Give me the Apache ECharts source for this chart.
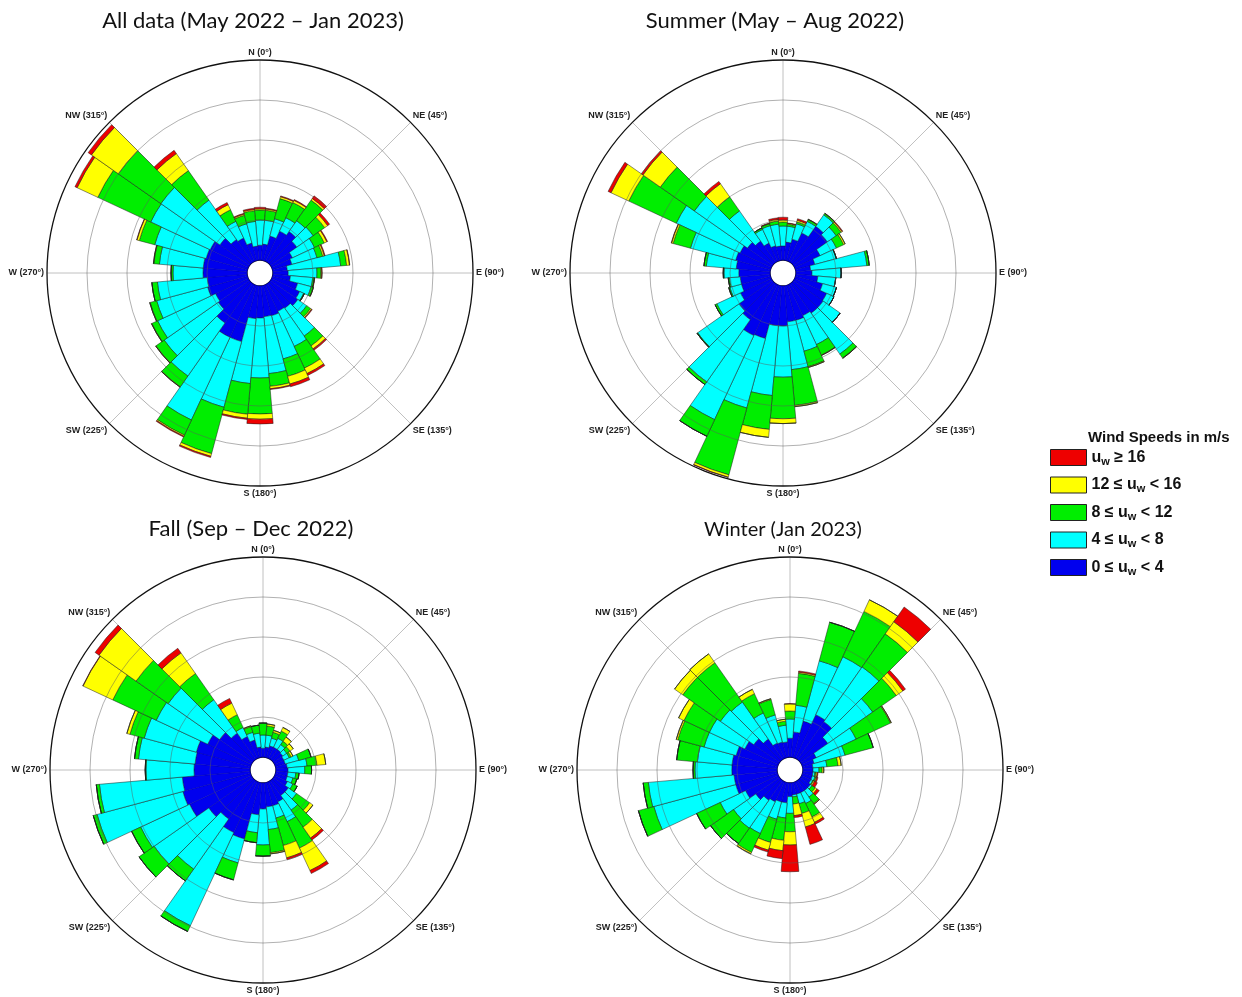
<!DOCTYPE html>
<html>
<head>
<meta charset="utf-8">
<script src="https://cdn.jsdelivr.net/npm/echarts@6/dist/echarts.min.js"></script>
<style>html,body{margin:0;padding:0;background:#fff}#c{width:1242px;height:997px}</style>
</head>
<body>
<div id="c"></div>
<script>
// direction bins (degrees, bin centres)
const directions = ['0','10','20','30','40','50','60','70','80','90','100','110','120','130','140','150','160','170',
  '180','190','200','210','220','230','240','250','260','270','280','290','300','310','320','330','340','350'];
const compassLabels = ['N (0°)','NE (45°)','E (90°)','SE (135°)','S (180°)','SW (225°)','W (270°)','NW (315°)'];
const speedLabels = ['0 ≤ uw < 4','4 ≤ uw < 8','8 ≤ uw < 12','12 ≤ uw < 16','uw ≥ 16'];
const roseTitles = ['All data (May 2022 – Jan 2023)','Summer (May – Aug 2022)','Fall (Sep – Dec 2022)','Winter (Jan 2023)'];
const radialTicks = [0,1,2,3,4,5];

// frequency (%) per direction bin, per speed class
const allSpeed0 = [.37,.40,.63,.83,.94,.80,.57,.50,.36,.38,.44,.65,.77,.83,.75,.73,.78,.77,.80,.82,1.45,1.45,1.20,.95,.90,1.03,1.00,1.10,1.10,1.07,1.05,.90,.70,.64,.45,.35];
const allSpeed4 = [.63,.60,.45,.37,.33,.50,.61,.65,1.34,.72,.56,.35,.11,.27,.85,.97,1.12,1.43,1.50,1.63,1.70,2.28,1.62,1.65,1.60,1.32,1.25,.75,1.10,1.33,1.64,1.80,1.20,.46,.50,.62];
const allSpeed8 = [.25,.25,.52,.42,.63,.35,.27,.15,.15,.10,.04,.05,.02,.12,.30,.60,.45,.32,.90,.77,1.20,.42,.33,.25,.16,.17,.14,.05,.14,.40,1.46,1.30,.90,.32,.22,.27];
const allSpeed12 = [.03,.03,.05,.06,.05,.09,.07,.04,.07,.02,0,.01,0,.03,.09,.15,.20,.06,.13,.10,.07,.03,.01,.01,.01,.01,0,0,.01,.06,.57,.82,.52,.14,.03,.03];
const allSpeed16 = [.04,.02,.02,.02,.08,.06,.02,.02,.01,.01,.01,0,0,.02,.04,.05,.07,.02,.12,.03,.03,.02,0,0,0,0,0,0,0,.01,.06,.10,.10,.06,.02,.03];

const summerSpeed0 = [.35,.45,.55,.78,1.10,1.03,.70,.50,.37,.40,.55,.70,.88,.90,.90,.85,.90,.90,1.00,1.00,1.37,1.40,1.10,1.02,.85,.75,.75,.78,.85,.90,.86,.76,.65,.50,.38,.35];
const summerSpeed4 = [.50,.40,.40,.32,.35,.27,.45,.55,1.41,.73,.45,.36,.20,.52,1.25,.80,.80,1.20,1.28,1.75,1.80,2.32,1.90,1.26,.65,.30,.27,.37,.75,1.17,1.76,1.62,.92,.38,.52,.55];
const summerSpeed8 = [.10,.05,.05,.05,.04,.15,.20,.01,.06,0,0,0,0,0,.12,.29,.40,.90,1.04,.85,1.73,.46,.08,.02,.05,.03,.03,.02,.06,.45,1.31,1.04,.43,.04,.05,.08];
const summerSpeed12 = [.05,.02,.04,.01,.01,.03,.04,0,0,0,0,0,0,0,.01,.01,.02,.03,.12,.20,.06,0,0,0,0,0,0,0,0,.04,.49,.53,.40,0,.01,.04];
const summerSpeed16 = [.07,.01,.04,0,0,.02,0,0,0,0,0,0,0,0,0,0,0,0,0,0,.01,0,0,0,0,0,0,0,0,.01,.08,.05,.07,0,.01,.04];

const fallSpeed0 = [.22,.25,.30,.30,.30,.28,.25,.25,.28,.30,.30,.30,.35,.45,.45,.55,.60,.60,.65,.80,1.46,1.40,1.17,1.33,1.70,1.75,1.70,1.40,1.38,1.40,1.20,1.00,.80,.60,.45,.25];
const fallSpeed4 = [.33,.30,.20,.25,.15,.12,.15,.35,.50,.42,.20,.15,.15,.25,.45,.55,.32,.57,.90,.45,.62,2.57,1.53,1.67,1.35,2.22,2.08,1.20,1.42,1.35,1.42,1.57,1.02,.25,.20,.35];
const fallSpeed8 = [.30,.23,.15,.20,.10,.10,.05,.32,.25,.17,.08,.10,.12,.40,.52,.73,.71,.58,.28,.25,.44,.16,.36,.46,.25,.10,.08,.02,.10,.37,1.20,.98,.80,.35,.15,.20];
const fallSpeed12 = [0,.05,.05,.10,.13,.10,.05,0,.22,0,0,0,0,.10,.33,.62,.32,.03,0,0,0,0,0,0,0,0,0,0,0,.08,.82,1.13,.63,.32,.02,0];
const fallSpeed16 = [0,0,0,0,0,0,0,0,0,0,0,0,0,0,.06,.08,.05,0,0,0,0,0,0,0,0,0,0,0,0,0,.01,.12,.14,.13,0,0];

const winterSpeed0 = [.47,.63,.94,1.20,1.15,.83,.40,.30,.25,.25,.25,.25,.25,.30,.30,.30,.30,.30,.34,.50,.50,.55,.60,.72,.90,1.08,1.08,1.13,1.13,1.07,.92,.78,.62,.42,.40,.38];
const winterSpeed4 = [.48,.67,1.56,1.60,1.67,1.37,1.10,.80,.35,.15,.05,.07,.05,.05,.20,.30,.25,.05,.42,.38,.45,.88,.85,.68,.70,2.12,2.15,.92,.87,.83,.98,1.02,1.13,.83,.70,.42];
const winterSpeed8 = [.20,.80,1.00,1.25,1.01,.72,.95,.73,.28,.08,.03,.03,.02,.10,.20,.37,.25,.18,.46,.56,.60,.52,.47,.70,.65,.40,.13,.05,.52,.68,.70,1.15,1.20,.53,.40,.10];
const winterSpeed12 = [.18,.03,0,.32,.37,.20,.02,0,.08,.04,.03,.02,.03,.05,.02,.15,.35,.29,.33,.26,.20,.04,0,0,0,0,0,0,0,.04,.15,.25,.27,.12,.02,.05];
const winterSpeed16 = [0,.03,0,0,.45,.08,0,0,0,0,.02,.03,.08,.07,0,.05,.45,.05,.67,.20,.05,0,0,0,0,0,0,0,0,0,0,0,0,0,0,0];

const roses = [
  [allSpeed0, allSpeed4, allSpeed8, allSpeed12, allSpeed16],
  [summerSpeed0, summerSpeed4, summerSpeed8, summerSpeed12, summerSpeed16],
  [fallSpeed0, fallSpeed4, fallSpeed8, fallSpeed12, fallSpeed16],
  [winterSpeed0, winterSpeed4, winterSpeed8, winterSpeed12, winterSpeed16]
];

// layout / style
const centers = [[260, 273], [783, 273], [263, 770], [790, 770]];
const titlePos = [[248, 5], [770, 5], [246, 513], [778, 515]];
const titleSizes = [22, 22, 22, 20];
const speedColors = ['#0000ee', '#00ffff', '#00ee00', '#ffff00', '#ee0000'];
const speedBorders = ['#0000a8', '#1a1a1a', '#1a1a1a', '#1a1a1a', '#1a1a1a'];
const innerR = 13, outerR = 213;

const chart = echarts.init(document.getElementById('c'), null, {renderer: 'canvas'});

const polar = [], angleAxis = [], radiusAxis = [], series = [], title = [];
const circleColors = radialTicks.map((t, i) => (i === 0 || i === radialTicks.length - 1) ? 'rgba(0,0,0,0)' : 'rgba(90,90,90,0.6)');

roses.forEach((rose, i) => {
  polar.push({center: centers[i], radius: [innerR, outerR]});
  polar.push({center: centers[i], radius: [innerR, outerR]});
  angleAxis.push({
    polarIndex: 2 * i, type: 'value', min: 0, max: 360, interval: 45, startAngle: 90, clockwise: true, z: 1,
    axisLine: {show: true, lineStyle: {color: '#111', width: 1.3}},
    axisTick: {show: false},
    axisLabel: {show: true, margin: 3, fontSize: 9, fontWeight: 'bold', fontFamily: 'Liberation Sans', color: '#222',
      formatter: v => (v >= 360 ? '' : compassLabels[Math.round(v / 45)])},
    splitLine: {show: true, lineStyle: {color: '#b0b0b0', width: 0.8}}
  });
  angleAxis.push({
    polarIndex: 2 * i + 1, type: 'category', data: directions, startAngle: 95, clockwise: true,
    axisLine: {show: false}, axisTick: {show: false}, axisLabel: {show: false}, splitLine: {show: false}
  });
  radiusAxis.push({
    polarIndex: 2 * i, type: 'value', min: radialTicks[0], max: radialTicks[radialTicks.length - 1], interval: 1, z: 10,
    axisLine: {show: false}, axisTick: {show: false}, axisLabel: {show: false},
    splitLine: {show: true, lineStyle: {color: circleColors, width: 0.8}}
  });
  radiusAxis.push({
    polarIndex: 2 * i + 1, type: 'value', min: radialTicks[0], max: radialTicks[radialTicks.length - 1],
    axisLine: {show: false}, axisTick: {show: false}, axisLabel: {show: false}, splitLine: {show: false}
  });
  rose.forEach((vals, k) => {
    series.push({
      type: 'bar', coordinateSystem: 'polar', polarIndex: 2 * i + 1, stack: 'rose' + i,
      name: speedLabels[k], data: vals, barCategoryGap: '0%', z: 3,
      itemStyle: {color: speedColors[k], borderColor: speedBorders[k], borderWidth: 0.5},
      emphasis: {disabled: true}, silent: true
    });
  });
  title.push({
    text: roseTitles[i], left: titlePos[i][0], top: titlePos[i][1], textAlign: 'center',
    textStyle: {fontFamily: 'Lato', fontWeight: 'normal', fontSize: titleSizes[i], color: '#111'}
  });
});

title.push({
  text: 'Wind Speeds in m/s', left: 1083, top: 425,
  textStyle: {fontFamily: 'Liberation Sans', fontWeight: 'bold', fontSize: 15, color: '#111'}
});

chart.setOption({
  backgroundColor: '#ffffff',
  animation: false,
  title: title,
  polar: polar,
  angleAxis: angleAxis,
  radiusAxis: radiusAxis,
  legend: {
    orient: 'vertical', left: 1045, top: 444, itemWidth: 36, itemHeight: 16, itemGap: 9.5,
    icon: 'rect', selectedMode: false,
    data: speedLabels.slice().reverse(),
    itemStyle: {borderColor: '#222', borderWidth: 1},
    formatter: name => {
      const parts = name.split('uw');
      return '{t|' + parts[0] + 'u}{s|w}{t|' + parts[1] + '}';
    },
    textStyle: {
      rich: {
        t: {fontFamily: 'Liberation Sans', fontWeight: 'bold', fontSize: 16, color: '#111', lineHeight: 20},
        s: {fontFamily: 'Liberation Sans', fontWeight: 'bold', fontSize: 11, color: '#111', padding: [8, 0, 0, 0]}
      }
    }
  },
  series: series
});
</script>
</body>
</html>
